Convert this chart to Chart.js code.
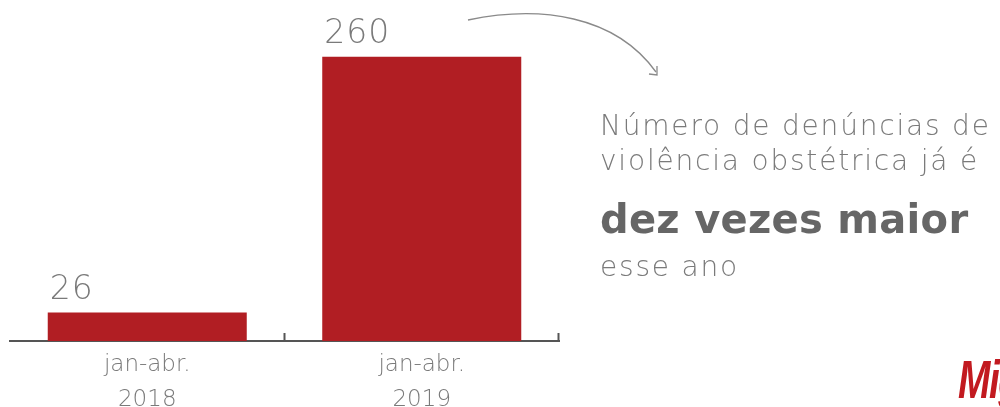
<!DOCTYPE html>
<html>
<head>
<meta charset="utf-8">
<script src="https://cdn.jsdelivr.net/npm/chart.js@4.4.1/dist/chart.umd.min.js"></script>
<style>
  html, body { margin: 0; padding: 0; background: #fff; }
  #wrap { position: relative; width: 1000px; height: 407px; overflow: hidden; background: #fff; }
  canvas { position: absolute; left: 0; top: 0; }
  .txt { position: absolute; left: 600px; color: #7a7a7a; font-family: "DejaVu Sans", sans-serif; font-weight: 300; white-space: nowrap; line-height: 1; }
  #l1 { top: 112px; font-size: 28px; letter-spacing: 1.8px; }
  #l2 { top: 147px; font-size: 28px; letter-spacing: 1.8px; }
  #l3 { top: 199px; font-size: 40px; font-weight: 700; color: #666; letter-spacing: 0.3px; }
  #l4 { top: 253px; font-size: 28px; letter-spacing: 1.8px; }
  #logo { position: absolute; left: 958px; top: 348px; font-family: "Liberation Sans", Arial, sans-serif; font-weight: 700; font-style: italic; font-size: 54px; color: #c21a20; white-space: nowrap; letter-spacing: -2px; transform: scaleX(0.72); transform-origin: left top; }
</style>
</head>
<body>
<div id="wrap">
  <canvas id="c" width="1000" height="407"></canvas>
  <div class="txt" id="l1">Número de denúncias de</div>
  <div class="txt" id="l2">violência obstétrica já é</div>
  <div class="txt" id="l3">dez vezes maior</div>
  <div class="txt" id="l4">esse ano</div>
  <div id="logo">Mig</div>
</div>
<script>
const categories = [["jan-abr.", "2018"], ["jan-abr.", "2019"]];
const valueLabels = ["26", "260"];
const denuncias = [26, 260];

const BAR_RED = "#b11e23";
const LABEL_GREY = "#7a7a7a";
const LIGHT_FONT = "'DejaVu Sans', sans-serif";

const decor = {
  id: "decor",
  afterDatasetsDraw(chart) {
    const ctx = chart.ctx;
    const meta = chart.getDatasetMeta(0);
    ctx.save();
    ctx.fillStyle = LABEL_GREY;
    ctx.font = "300 33px " + LIGHT_FONT;
    ctx.textAlign = "left";
    ctx.textBaseline = "alphabetic";
    if ("letterSpacing" in ctx) ctx.letterSpacing = "1px";
    meta.data.forEach((bar, i) => {
      const left = bar.x - bar.width / 2;
      ctx.fillText(valueLabels[i], left + 2, bar.y - 14);
    });
    if ("letterSpacing" in ctx) ctx.letterSpacing = "0px";
    const xs = chart.scales.x;
    const half = (xs.getPixelForValue(1) - xs.getPixelForValue(0)) / 2;
    ctx.strokeStyle = "#555";
    ctx.lineWidth = 2;
    const yb = chart.chartArea.bottom;
    for (let i = 0; i < categories.length; i++) {
      const x = Math.round(xs.getPixelForValue(i) + half) - 0.5;
      ctx.beginPath();
      ctx.moveTo(x, yb);
      ctx.lineTo(x, yb - 8);
      ctx.stroke();
    }
    ctx.strokeStyle = "#8a8a8a";
    ctx.lineWidth = 1.3;
    ctx.beginPath();
    ctx.moveTo(468, 20);
    ctx.bezierCurveTo(540, 5, 615, 15, 656, 72);
    ctx.stroke();
    ctx.beginPath();
    ctx.moveTo(649, 74);
    ctx.lineTo(657, 75);
    ctx.lineTo(657, 66);
    ctx.stroke();
    ctx.restore();
  }
};

new Chart(document.getElementById("c"), {
  type: "bar",
  data: {
    labels: categories,
    datasets: [{
      data: denuncias,
      backgroundColor: BAR_RED,
      borderWidth: 0,
      categoryPercentage: 0.725,
      barPercentage: 1.0
    }]
  },
  options: {
    responsive: false,
    animation: false,
    layout: { padding: { left: 10, right: 441, top: 13, bottom: 0 } },
    plugins: { legend: { display: false }, tooltip: { enabled: false } },
    scales: {
      y: { display: false, min: 0, max: 300 },
      x: {
        grid: { display: false, drawTicks: false },
        border: { display: true, color: "#555", width: 2 },
        ticks: {
          color: LABEL_GREY,
          font: { family: LIGHT_FONT, size: 23, weight: 300, lineHeight: 1.55 },
          padding: 6
        },
        afterFit(scale) { scale.height = 66; }
      }
    }
  },
  plugins: [decor]
});
</script>
</body>
</html>
